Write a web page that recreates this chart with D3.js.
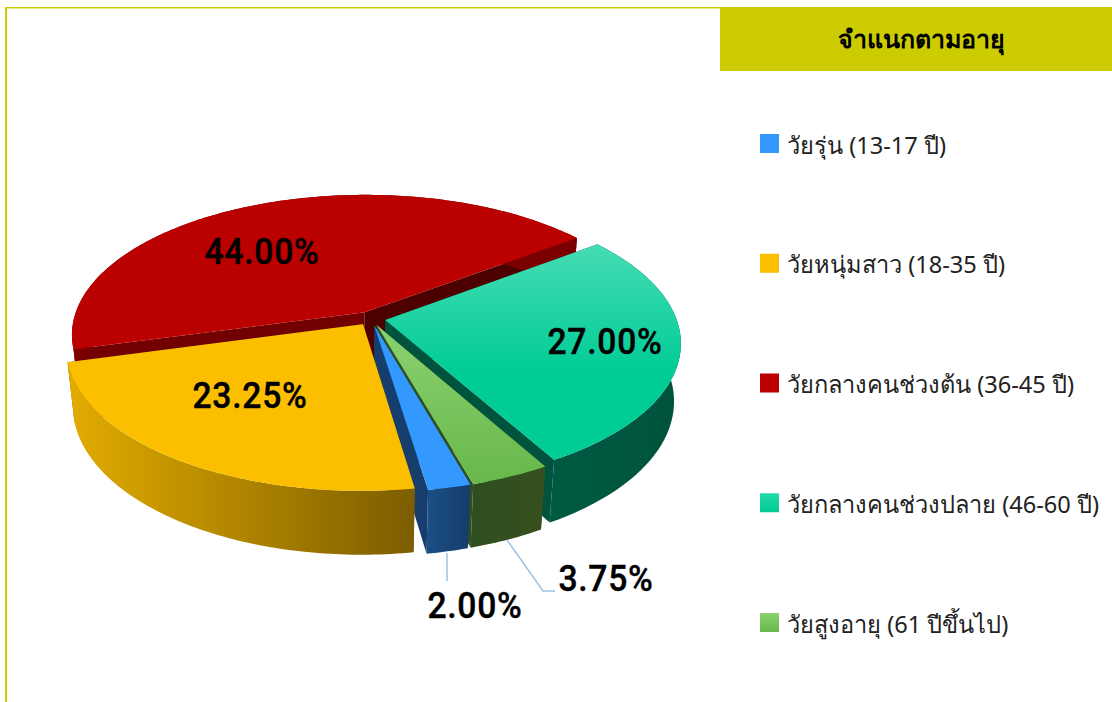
<!DOCTYPE html>
<html>
<head>
<meta charset="utf-8">
<script src="https://cdn.jsdelivr.net/npm/d3@7"></script>
<style>
  html, body { margin: 0; padding: 0; background: #fff; }
  svg { display: block; }
</style>
</head>
<body>
<svg id="chart" width="1112" height="702"></svg>
<script>
const title = "จำแนกตามอายุ";
const categories = [
  "วัยรุ่น (13-17 ปี)",
  "วัยหนุ่มสาว (18-35 ปี)",
  "วัยกลางคนช่วงต้น (36-45 ปี)",
  "วัยกลางคนช่วงปลาย (46-60 ปี)",
  "วัยสูงอายุ (61 ปีขึ้นไป)"
];
const values = [2.00, 23.25, 44.00, 27.00, 3.75];

const topColors = ["#3399ff", "#fcbf00", "#bb0000", "url(#topTeal)", "url(#topGreen)"];
const legendColors = ["#3399ff", "#fcbf00", "#bb0000", "url(#swatchTeal)", "url(#swatchGreen)"];
const wallColors = ["#163e6c", "#7f6000", "#4d0000", "#00533c", "#2f4f1f"];
const wallColorsEnd = ["#163e6c", "#7f6000", "#730000", "#00533c", "#2f4f1f"];
const outerStops = [
  ["#1a4f85", "#163c69"],
  ["#e3ac00", "#7c5d00"],
  ["#7a0000", "#7a0000"],
  ["#005a42", "#00533c"],
  ["#2d4f20", "#384f1e"]
];
// bold black percentage labels, anchored by hand like the original
const labelPos = [[475, 605], [250, 395], [262, 251], [605, 341], [606, 578]];

const width = 1112, height = 702;
const cx = 371, cy = 318.5, Rx = 291, Ry = 138, depth = 58.5;
const persp = 0.159, perspZ = 0.022, explode = 0.05;
const startDeg = 164;
const drawOrder = [2, 3, 4, 0, 1];

const svg = d3.select("#chart");
const defs = svg.append("defs");

function vGrad(id, y1, y2, stops, units) {
  const g = defs.append("linearGradient").attr("id", id)
      .attr("gradientUnits", units || "userSpaceOnUse")
      .attr("x1", 0).attr("x2", 0).attr("y1", y1).attr("y2", y2);
  stops.forEach(s => g.append("stop").attr("offset", s[0]).attr("stop-color", s[1]));
}
vGrad("topTeal", 245, 460, [[0, "#46dcb4"], [0.6, "#00cc96"], [1, "#00cc96"]]);
vGrad("topGreen", 330, 482, [[0, "#8ad16f"], [1, "#68b84b"]]);
vGrad("swatchTeal", 0, 1, [[0, "#22d9a8"], [1, "#00cc96"]], "objectBoundingBox");
vGrad("swatchGreen", 0, 1, [[0, "#8ad16f"], [1, "#68b84b"]], "objectBoundingBox");

// frame
svg.append("rect").attr("x", 5).attr("y", 8).attr("width", 2).attr("height", height - 8).attr("fill", "#cccc00");
svg.append("rect").attr("x", 5).attr("y", 7).attr("width", 716).attr("height", 1.5).attr("fill", "#cccc00");
svg.append("rect").attr("x", 720).attr("y", 7).attr("width", width - 720).attr("height", 64).attr("fill", "#cccc00");
svg.append("text").attr("x", 921).attr("y", 48)
    .attr("text-anchor", "middle")
    .attr("font-family", "'Noto Sans', 'DejaVu Sans', sans-serif")
    .attr("font-weight", 700).attr("font-size", 25)
    .text(title);

// pie
const pie = d3.pie().sort(null).value(d => d)
    .startAngle(startDeg * Math.PI / 180)
    .endAngle(startDeg * Math.PI / 180 + 2 * Math.PI);
const arcs = pie(values);

function project(a, r, z, mid) {
  const u = Math.sin(a) * r + explode * Math.sin(mid);
  const v = -Math.cos(a) * r - explode * Math.cos(mid);
  const k = 1 / (1 - persp * v + perspZ * z);
  return [cx + Rx * u * k, cy + (Ry * v + depth * z) * k];
}

function arcAngles(d) {
  const n = Math.ceil((d.endAngle - d.startAngle) * 60);
  return d3.range(n + 1).map(i => d.startAngle + (d.endAngle - d.startAngle) * i / n);
}

const line = d3.line();
const pieG = svg.append("g");

drawOrder.forEach(i => {
  const d = arcs[i];
  const mid = (d.startAngle + d.endAngle) / 2;
  const angles = arcAngles(d);
  const g = pieG.append("g");

  // radial walls
  [[d.startAngle, wallColorsEnd[i]], [d.endAngle, wallColors[i]]].forEach(([a, c]) => {
    g.append("path")
        .attr("d", line([
          project(a, 0, 0, mid), project(a, 1, 0, mid),
          project(a, 1, 1, mid), project(a, 0, 1, mid)
        ]) + "Z")
        .attr("fill", c);
  });

  // outer wall
  const xs = angles.map(a => project(a, 1, 0, mid)[0]);
  const gid = "outer" + i;
  const grad = defs.append("linearGradient").attr("id", gid)
      .attr("gradientUnits", "userSpaceOnUse")
      .attr("x1", d3.min(xs)).attr("x2", d3.max(xs)).attr("y1", 0).attr("y2", 0);
  grad.append("stop").attr("offset", 0).attr("stop-color", outerStops[i][0]);
  grad.append("stop").attr("offset", 1).attr("stop-color", outerStops[i][1]);
  const wall = angles.map(a => project(a, 1, 0, mid))
      .concat(angles.slice().reverse().map(a => project(a, 1, 1, mid)));
  g.append("path").attr("d", line(wall) + "Z").attr("fill", `url(#${gid})`);

  // top face
  const topFace = [project(d.startAngle, 0, 0, mid)].concat(angles.map(a => project(a, 1, 0, mid)));
  g.append("path").attr("d", line(topFace) + "Z").attr("fill", topColors[i]);
});

// leader lines for the two small slices
const leaders = [
  [[447, 553], [447, 581]],
  [[507, 540], [543, 591], [555, 591]]
];
svg.selectAll(".leader").data(leaders).join("path")
    .attr("class", "leader")
    .attr("d", d => line(d))
    .attr("fill", "none")
    .attr("stroke", "#9dc3e6")
    .attr("stroke-width", 1.5);

// value labels, squeezed a little since the original face is narrower
svg.selectAll(".val").data(values).join("text")
    .attr("class", "val")
    .attr("transform", (d, i) => `translate(${labelPos[i][0]},${labelPos[i][1]}) scale(0.91,1)`)
    .attr("dy", "0.36em")
    .attr("text-anchor", "middle")
    .attr("font-family", "Roboto, sans-serif")
    .attr("font-weight", 500)
    .attr("font-size", 37)
    .attr("letter-spacing", 0.8)
    .attr("stroke", "#000")
    .attr("stroke-width", 0.4)
    .attr("fill", "#000")
    .text(d => d.toFixed(2) + "%");

// legend
const legendY = d3.scalePoint().domain(categories).range([143.5, 622.5]);
const legend = svg.selectAll(".legend").data(categories).join("g")
    .attr("class", "legend")
    .attr("transform", d => `translate(760,${legendY(d)})`);
legend.append("rect")
    .attr("x", 0).attr("y", -9.5).attr("width", 19).attr("height", 19)
    .attr("fill", (d, i) => legendColors[i]);
legend.append("text")
    .attr("x", 27).attr("y", 10)
    .attr("font-family", "'Noto Sans', 'DejaVu Sans', sans-serif")
    .attr("font-size", 23.6)
    .attr("fill", "#222")
    .text(d => d);
</script>
</body>
</html>
